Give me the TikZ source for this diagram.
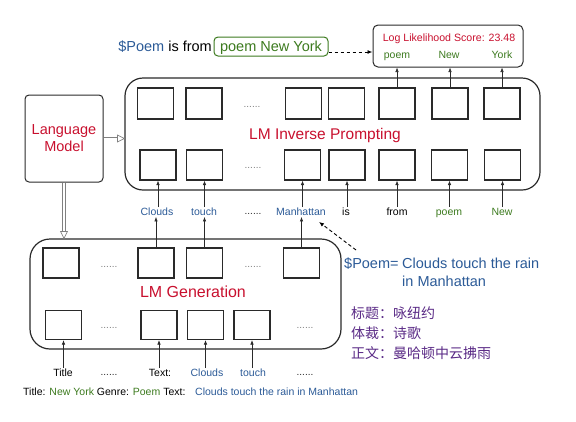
\documentclass[tikz,border=0pt]{standalone}
\usepackage{fontspec}
\setmainfont{Liberation Sans}
\newfontfamily\cjk{Noto Sans CJK SC}
\usetikzlibrary{arrows.meta,calc}
\definecolor{lmred}{HTML}{C8102E}
\definecolor{lmblue}{HTML}{2B5A97}
\definecolor{lmgreen}{HTML}{3C7A1E}
\definecolor{lmpurple}{HTML}{5A2A86}
\definecolor{lmline}{HTML}{2A2A2A}
\newcommand\fsz[1]{\fontsize{#1}{#1}\selectfont}
\begin{document}
\begin{tikzpicture}[x=1pt,y=-1pt,
  cell/.style={draw=lmline,line width=1.1pt,minimum width=36pt,minimum height=30pt,inner sep=0pt},
  panel/.style={draw=lmline,line width=1.2pt,rounded corners=#1,inner sep=0pt},
  word/.style={font=\fsz{10.5},inner sep=1pt,text height=7.5pt,text depth=0pt},
  dotsn/.style={font=\fsz{10},text=gray,inner sep=0pt,anchor=base},
  arr/.style={draw=lmline,line width=0.6pt,-{Latex[length=4.5pt,width=3.5pt]}},
  dasharr/.style={draw=black,line width=0.9pt,dash pattern=on 3.5pt off 2.5pt,-{Latex[length=5pt,width=4pt]}},
  dbl/.style={draw=gray,line width=0.6pt,double=white,double distance=2pt},
  hollow/.style={draw=gray,line width=0.7pt,fill=white},
  big/.style={font=\fsz{#1},text=lmred,inner sep=0pt,text depth=0pt},
]
\useasboundingbox (0,0) rectangle (576,421);

% panels
\node[panel=18pt,minimum width=415pt,minimum height=112pt] (inv) at (332.5,134) {};
\node[panel=20pt,minimum width=311pt,minimum height=110pt] (gen) at (185.5,294) {};
\node[panel=4pt,line width=1pt,minimum width=78pt,minimum height=87pt,align=center,text=lmred,
      font=\fontsize{14.5}{17}\selectfont] (lm) at (64,138.5) {Language\\Model};
\node[panel=5pt,line width=1pt,minimum width=150pt,minimum height=42pt] (log) at (448,46) {};

\node[big=15.5] (invt) at (325,134) {LM Inverse Prompting};
\node[big=16] (gent) at (193,292) {LM Generation};

% log box contents
\node[word,text=lmred,font=\fsz{10.6}] (ll) at (449,38) {Log Likelihood Score: 23.48};
\node[word,text=lmgreen] (lp) at (397,55) {poem};
\node[word,text=lmgreen] (ln) at (449,55) {New};
\node[word,text=lmgreen] (ly) at (502,55) {York};

% inverse prompting cells
\foreach \n/\x in {1/155.5,2/204,3/303.5,4/346.5,5/397,6/450,7/502}
  \node[cell,minimum height=31pt] (t\n) at (\x,103.5) {};
\foreach \n/\x in {1/158,2/204.5,3/302.5,4/347,5/397,6/449.5,7/502.5}
  \node[cell] (b\n) at (\x,165) {};
\node[dotsn] (td) at (252,107) {......};
\node[dotsn] (bd) at (253,168) {......};

% word row
\node[word,text=lmblue] (w1) at (157,212) {Clouds};
\node[word,text=lmblue] (w2) at (204,212) {touch};
\node[dotsn,text=lmline] (w3) at (253,214.5) {......};
\node[word,text=lmblue] (w4) at (301,212) {Manhattan};
\node[word] (w5) at (346,212) {is};
\node[word] (w6) at (397,212) {from};
\node[word,text=lmgreen] (w7) at (449,212) {poem};
\node[word,text=lmgreen] (w8) at (502,212) {New};

\foreach \b/\w in {1/1,2/2,3/4,4/5,5/6,6/7,7/8}
  \draw[arr] (b\b.south |- w\w.north) -- (b\b.south);
\foreach \t in {5,6,7}
  \draw[arr] (t\t.north) -- (t\t.north |- log.south);

% generation cells
\foreach \n/\x in {1/61,2/156,3/204.5,4/301.5}
  \node[cell] (g\n) at (\x,263) {};
\foreach \n/\x in {1/63.5,2/159,3/205.5,4/252}
  \node[cell,minimum height=29pt] (h\n) at (\x,325) {};
\node[dotsn] (gd1) at (109,267) {......};
\node[dotsn] (gd2) at (253,267) {......};
\node[dotsn] (hd1) at (109,328) {......};
\node[dotsn] (hd2) at (305,328) {......};

\draw[arr] (g2.north) -- (g2.north |- w1.south);
\draw[arr] (g3.north) -- (g3.north |- w2.south);
\draw[arr] (g4.north) -- (g4.north |- w4.south);

% bottom inputs
\node[word] (l1) at (63,373) {Title};
\node[dotsn,text=lmline] (l2) at (109,375.5) {......};
\node[word] (l3) at (160,373) {Text:};
\node[word,text=lmblue] (l4) at (207,373) {Clouds};
\node[word,text=lmblue] (l5) at (253,373) {touch};
\node[dotsn,text=lmline] (l6) at (305,375.5) {......};
\draw[arr] (h1.south |- l1.north) -- (h1.south);
\draw[arr] (h2.south |- l3.north) -- (h2.south);
\draw[arr] (h3.south |- l4.north) -- (h3.south);
\draw[arr] (h4.south |- l5.north) -- (h4.south);

\node[word,anchor=west,inner sep=0pt] (cap1) at (23,392)
  {Title: \textcolor{lmgreen}{New York} Genre: \textcolor{lmgreen}{Poem} Text:};
\node[word,anchor=west,inner sep=0pt,text=lmblue] (cap2) at (195,392)
  {Clouds touch the rain in Manhattan};

% language model connections
\draw[dbl] (lm.east) -- ([xshift=-7pt]lm.east -| inv.west);
\draw[hollow] (lm.east -| inv.west) -- ++(-7,3.5) -- ++(0,-7) -- cycle;
\draw[dbl] (lm.south) -- ([yshift=7pt]lm.south |- gen.north);
\draw[hollow] (lm.south |- gen.north) -- ++(-3.5,-7) -- ++(7,0) -- cycle;

% top prompt
\node[anchor=east,font=\fsz{14.5},inner sep=1pt,text height=10.5pt,text depth=0pt] (ps) at (213,46.5)
  {\textcolor{lmblue}{\$Poem} is from};
\node[draw=lmgreen,line width=1pt,rounded corners=4pt,text=lmgreen,font=\fsz{14.5},
      minimum width=114pt,minimum height=19pt,inner sep=0pt,text height=10.5pt,text depth=0pt] (pg) at (271,46.5) {poem New York};
\draw[dasharr] ([yshift=-5.5pt]pg.east) -- ([yshift=-5.5pt]pg.east -| log.west);

% poem statement
\node[anchor=base west,font=\fsz{14.5},text=lmblue,inner sep=0pt] (pe) at (344,268) {\$Poem=};
\node[anchor=base west,font=\fsz{14.5},text=lmblue,inner sep=0pt] (pt1) at (402,268) {Clouds touch the rain};
\node[anchor=base west,font=\fsz{14.5},text=lmblue,inner sep=0pt] (pt2) at (402,286) {in Manhattan};
\coordinate (ds) at (356,250);
\draw[dasharr] (ds) -- ([xshift=-8pt,yshift=-5pt]w4.south east);

% chinese
\node[anchor=base west,font=\cjk\fsz{14},text=lmpurple,inner sep=0pt] (c1) at (351,318.5) {标题：咏纽约};
\node[anchor=base west,font=\cjk\fsz{14},text=lmpurple,inner sep=0pt] (c2) at (351,338.5) {体裁：诗歌};
\node[anchor=base west,font=\cjk\fsz{14},text=lmpurple,inner sep=0pt] (c3) at (351,358.5) {正文：曼哈顿中云拂雨};
\end{tikzpicture}
\end{document}
